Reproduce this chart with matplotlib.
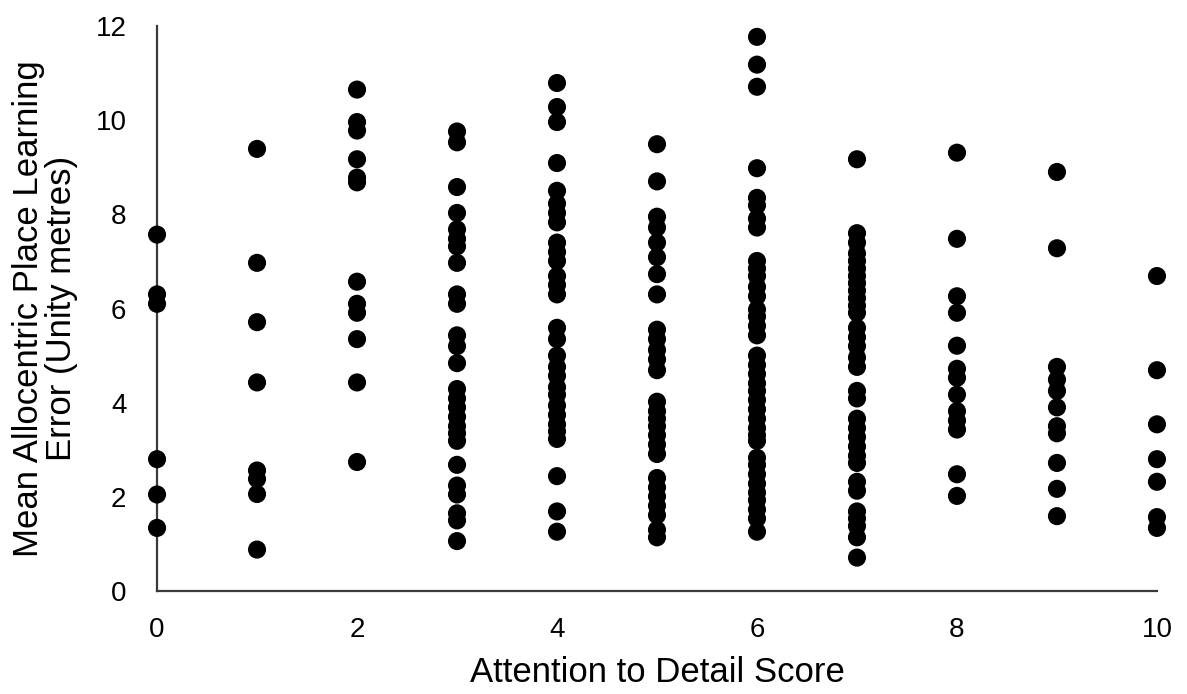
import matplotlib
matplotlib.use("Agg")
import matplotlib.pyplot as plt

# attention to detail score (x) and mean error values (y) for each score
scores = [0, 1, 2, 3, 4, 5, 6, 7, 8, 9, 10]

errors_0 = [7.57, 6.30, 6.10, 2.80, 2.05, 1.34]
errors_1 = [9.39, 6.97, 5.71, 4.43, 2.56, 2.38, 2.06, 0.88]
errors_2 = [10.65, 9.96, 9.78, 9.17, 8.78, 8.68, 6.57, 6.10, 5.91, 5.35, 4.43, 2.74]
errors_3 = [9.76, 9.53, 8.58, 8.03, 7.68, 7.48, 7.32, 6.97, 6.30, 6.10, 5.43, 5.20,
            4.84, 4.29, 4.09, 3.90, 3.70, 3.50, 3.35, 3.19, 2.68, 2.24, 2.05, 1.65,
            1.50, 1.06]
errors_4 = [10.79, 10.28, 9.96, 9.09, 8.50, 8.23, 8.03, 7.83, 7.40, 7.20, 7.01, 6.69,
            6.50, 6.30, 5.59, 5.35, 5.00, 4.76, 4.57, 4.33, 4.17, 3.94, 3.74, 3.54,
            3.39, 3.23, 2.44, 1.69, 1.26]
errors_5 = [9.49, 8.70, 7.95, 7.72, 7.40, 7.09, 6.73, 6.30, 5.55, 5.35, 5.12, 4.92,
            4.69, 4.02, 3.82, 3.66, 3.50, 3.31, 3.11, 2.91, 2.40, 2.20, 2.01, 1.81,
            1.61, 1.30, 1.14]
errors_6 = [11.77, 11.18, 10.71, 8.98, 8.35, 8.19, 7.91, 7.72, 7.01, 6.85, 6.69, 6.46,
            6.26, 5.98, 5.83, 5.63, 5.43, 5.00, 4.80, 4.61, 4.41, 4.25, 4.06, 3.86,
            3.66, 3.46, 3.31, 3.19, 2.83, 2.68, 2.48, 2.28, 2.09, 1.93, 1.73, 1.54,
            1.26]
errors_7 = [9.17, 7.60, 7.40, 7.17, 7.01, 6.85, 6.69, 6.54, 6.38, 6.22, 6.06, 5.91,
            5.59, 5.39, 5.20, 4.96, 4.76, 4.25, 4.09, 3.66, 3.46, 3.27, 3.07, 2.87,
            2.72, 2.32, 2.13, 1.69, 1.54, 1.38, 1.14, 0.71]
errors_8 = [9.31, 7.48, 6.26, 5.91, 5.21, 4.72, 4.53, 4.17, 3.82, 3.62, 3.43, 2.48, 2.02]
errors_9 = [8.90, 7.28, 4.76, 4.49, 4.25, 3.90, 3.50, 3.35, 2.72, 2.17, 1.59]
errors_10 = [6.69, 4.69, 3.54, 2.80, 2.32, 1.57, 1.34]

all_errors = [errors_0, errors_1, errors_2, errors_3, errors_4, errors_5,
              errors_6, errors_7, errors_8, errors_9, errors_10]

plt.rcParams['font.family'] = ['Liberation Sans', 'DejaVu Sans']

fig = plt.figure(figsize=(11.87, 6.94), dpi=100)
ax = fig.add_axes([0.1323, 0.1484, 0.8424, 0.8141])

for score, errs in zip(scores, all_errors):
    ax.scatter([score] * len(errs), errs, s=170, color='black', edgecolors='none',
               zorder=3, clip_on=False)

ax.set_xlim(0, 10)
ax.set_ylim(0, 12)
ax.set_xticks([0, 2, 4, 6, 8, 10])
ax.set_yticks([0, 2, 4, 6, 8, 10, 12])
ax.tick_params(length=0, labelsize=20)
ax.tick_params(axis='x', pad=19)
ax.tick_params(axis='y', pad=22)

for side in ['top', 'right']:
    ax.spines[side].set_visible(False)
for side in ['left', 'bottom']:
    ax.spines[side].set_color('#3a3a3a')
    ax.spines[side].set_linewidth(1.6)

ax.set_xlabel('Attention to Detail Score', fontsize=25, va='top')
ax.set_ylabel('Mean Allocentric Place Learning\nError (Unity metres)', fontsize=25,
              linespacing=1.0)
ax.xaxis.set_label_coords(0.5, -0.115)
ax.yaxis.set_label_coords(-0.079, 0.5)

fig.savefig('out.png', dpi=100)
